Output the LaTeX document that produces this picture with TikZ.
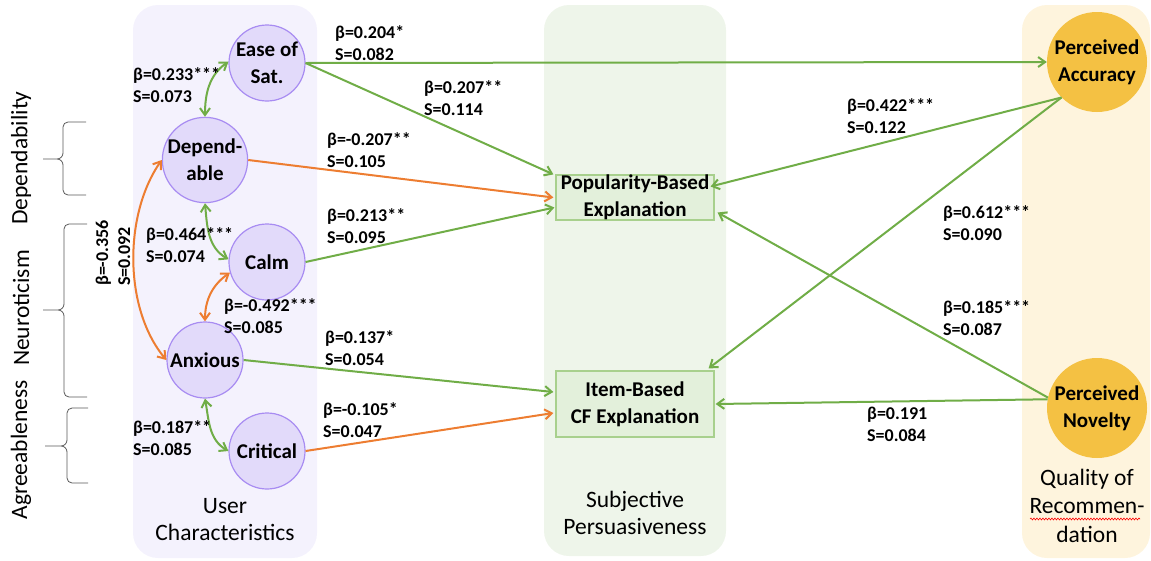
\documentclass[tikz,border=0pt]{standalone}
\usepackage{fontspec}
\setmainfont{Carlito}
\usetikzlibrary{arrows.meta,decorations.pathmorphing}

\definecolor{userbg}{HTML}{F4F2FD}
\definecolor{persbg}{HTML}{EEF5EA}
\definecolor{qualbg}{HTML}{FEF4DD}
\definecolor{traitfill}{HTML}{E2DAFA}
\definecolor{traitline}{HTML}{A88CF2}
\definecolor{boxfill}{HTML}{E3F0DB}
\definecolor{boxline}{HTML}{A8D08D}
\definecolor{qualfill}{HTML}{F4C143}
\definecolor{posgreen}{HTML}{70AD47}
\definecolor{negorange}{HTML}{ED7D31}
\definecolor{bracegrey}{HTML}{595959}

% left-margin curly brace: end x, top y, tip y, bottom y, bar x, tip x
\newcommand\sidebrace[6]{%
  \draw[bracepen] (#1,#2) -- (#5+5,#2) to[out=180,in=90] (#5,#2+5)
    -- (#5,#3-6) to[out=-90,in=0] (#5-6,#3) -- (#6,#3) -- (#5-6,#3)
    to[out=0,in=90] (#5,#3+6) -- (#5,#4-5) to[out=-90,in=180] (#5+5,#4)
    -- (#1,#4);}

\begin{document}
\begin{tikzpicture}[x=1pt,y=-1pt,
  panel/.style={rounded corners=25pt},
  trait/.style={circle, minimum size=76pt, inner sep=0pt, draw=traitline,
    line width=1.2pt, fill=traitfill, align=center,
    font=\bfseries\fontsize{21}{27}\selectfont},
  outcome/.style={circle, minimum size=100pt, inner sep=0pt, fill=qualfill,
    align=center, font=\bfseries\fontsize{21}{27}\selectfont},
  expl/.style={rectangle, draw=boxline, line width=1.2pt, fill=boxfill,
    inner sep=0pt, minimum width=158pt, align=center,
    font=\bfseries\fontsize{21}{27}\selectfont},
  coef/.style={anchor=north west, inner sep=0pt, align=left,
    font=\bfseries\fontsize{18}{22}\selectfont},
  grouplabel/.style={anchor=north, inner sep=0pt, align=center,
    font=\fontsize{23.5}{27}\selectfont},
  sidelabel/.style={rotate=90, inner sep=0pt, font=\fontsize{23.5}{27}\selectfont},
  bracepen/.style={draw=bracegrey, line width=0.8pt},
  posarrow/.style={draw=posgreen, line width=2pt, -{Straight Barb[length=7pt,width=10pt]}},
  negarrow/.style={draw=negorange, line width=2pt, -{Straight Barb[length=7pt,width=10pt]}},
  corrpos/.style={draw=posgreen, line width=2pt,
    {Straight Barb[length=7pt,width=10pt]}-{Straight Barb[length=7pt,width=10pt]}},
  corrneg/.style={draw=negorange, line width=2pt,
    {Straight Barb[length=7pt,width=10pt]}-{Straight Barb[length=7pt,width=10pt]}},
]
\useasboundingbox (0,0) rectangle (1151,560);

% column panels
\fill[userbg, panel] (133,5) rectangle (317,558);
\fill[persbg, panel] (544,5) rectangle (726,556);
\fill[qualbg, panel] (1022,5) rectangle (1150,558);

% user characteristics
\node[trait] (ease) at (267,63) {Ease of\\Sat.};
\node[trait] (dep)  at (205,160) {Depend-\\able};
\node[trait] (calm) at (267,262) {Calm};
\node[trait] (anx)  at (205,360) {Anxious};
\node[trait] (crit) at (267,451) {Critical};

% explanations
\node[expl, minimum height=45pt] (pop)  at (635,197.5) {Popularity-Based\\Explanation};
\node[expl, minimum height=66pt] (item) at (635,404) {Item-Based\\CF Explanation};

% recommendation quality
\node[outcome] (acc) at (1097,62)  {Perceived\\Accuracy};
\node[outcome] (nov) at (1097,408) {Perceived\\Novelty};

% group labels
\node[grouplabel] (userlbl) at (225,498) {User\\Characteristics};
\node[grouplabel] (perslbl) at (635,491) {Subjective\\Persuasiveness};
\node[grouplabel, font=\fontsize{23.5}{28.5}\selectfont] (quallbl) at (1087,468.5)
  {Quality of\\Recommen-\\dation};
\draw[red, line width=0.6pt, decorate,
  decoration={snake, amplitude=0.9pt, segment length=3pt}] (1030,519) -- (1140,519);

% personality dimensions
\node[sidelabel] (dlab) at (21,158) {Dependability};
\node[sidelabel] (nlab) at (21,308) {Neuroticism};
\node[sidelabel] (alab) at (21,450) {Agreeableness};
\sidebrace{86}{122}{159}{195}{63}{43}
\sidebrace{87}{224}{310}{397}{64}{43}
\sidebrace{88}{408}{446}{483}{67}{45}

% correlations among user characteristics
\draw[corrpos] (ease.178) to[out=215,in=90] (dep.north);
\draw[corrpos] (dep.south) to[out=-85,in=150] (calm.176);
\draw[corrneg] (calm.196) to[out=215,in=90] (anx.north);
\draw[corrneg] (dep.west) to[out=235,in=130,looseness=0.85] (anx.west);
\draw[corrpos] (anx.south) to[out=-80,in=150] (crit.west);

% paths to explanations and outcomes
\draw[posarrow] (ease.east) -- (acc.west);
\draw[posarrow] (ease.east) -- ([xshift=-2pt]pop.north west);
\draw[negarrow] (dep.east) -- ([xshift=-2pt]pop.west);
\draw[posarrow] (calm.east) -- ([xshift=-1pt,yshift=-10pt]pop.west);
\draw[posarrow] (anx.east) -- ([xshift=-2pt,yshift=12pt]item.west);
\draw[negarrow] (crit.east) -- ([xshift=-2pt,yshift=-9pt]item.west);
\draw[posarrow] (acc.225) -- ([xshift=-4pt,yshift=11pt]pop.east);
\draw[posarrow] (acc.225) -- ([xshift=-6pt,yshift=2pt]item.north east);
\draw[posarrow] (nov.168) -- ([xshift=3pt,yshift=-15pt]pop.east);
\draw[posarrow] (nov.170) -- ([xshift=1pt]item.east);

% coefficients
\node[coef] (c1)  at (335,25)  {β=0.204*\\S=0.082};
\node[coef] (c2)  at (424,80)  {β=0.207**\\S=0.114};
\node[coef] (c3)  at (327,132) {β=-0.207**\\S=0.105};
\node[coef] (c4)  at (327,208) {β=0.213**\\S=0.095};
\node[coef] (c5)  at (325,330) {β=0.137*\\S=0.054};
\node[coef] (c6)  at (323,402) {β=-0.105*\\S=0.047};
\node[coef] (c7)  at (847,98)  {β=0.422***\\S=0.122};
\node[coef] (c8)  at (943,205) {β=0.612***\\S=0.090};
\node[coef] (c9)  at (943,300) {β=0.185***\\S=0.087};
\node[coef] (c10) at (867,407) {β=0.191\\S=0.084};
\node[coef] (c11) at (133,67)  {β=0.233***\\S=0.073};
\node[coef] (c12) at (146,227) {β=0.464***\\S=0.074};
\node[coef] (c13) at (224,298) {β=-0.492***\\S=0.085};
\node[coef] (c14) at (133,420) {β=0.187**\\S=0.085};
\node[coef, anchor=center, rotate=90] (c15) at (113,253) {β=-0.356\\S=0.092};
\end{tikzpicture}
\end{document}
